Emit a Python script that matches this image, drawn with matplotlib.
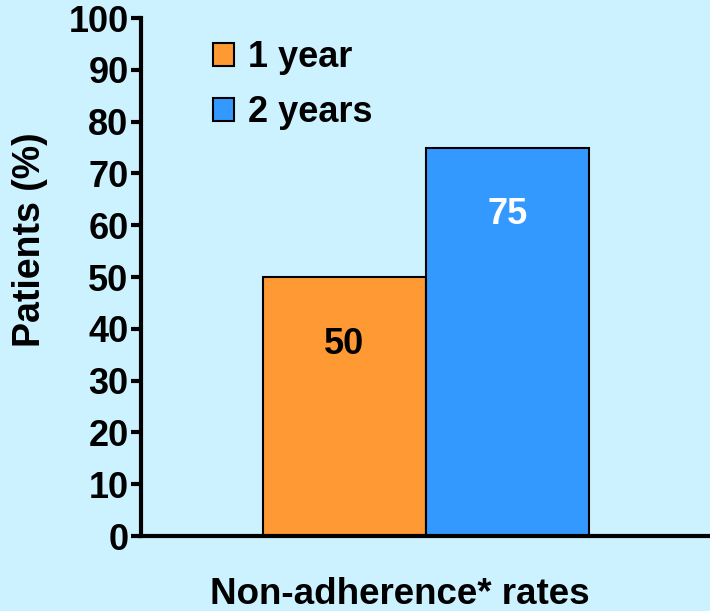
import numpy as np
import matplotlib.pyplot as plt
from matplotlib.patches import Patch

# non-adherence rates by follow-up period
periods = ['1 year', '2 years']
rates = [50, 75]
colors = ['#FF9933', '#3399FF']
label_colors = ['black', 'white']
yticks = np.arange(0, 101, 10)

bg = '#CCF2FF'
fs = 26
plt.rcParams['font.family'] = ['Liberation Sans', 'DejaVu Sans']
plt.rcParams['font.weight'] = 'bold'

fig = plt.figure(figsize=(7.1, 6.11), dpi=100, facecolor=bg)
ax = fig.add_axes([0.1986, 0.1227, 0.8014, 0.8478], facecolor=bg)

x = np.arange(len(rates))
bars = ax.bar(x, rates, width=1.0, color=colors, edgecolor='black', linewidth=1.5)

for xi, r, c in zip(x, rates, label_colors):
    ax.text(xi, r - 13, str(r), ha='center', va='center', color=c,
            fontsize=fs, fontweight='bold')

ax.set_xlim(-1.248, 2.243)
ax.set_ylim(0, 100)
ax.set_yticks(yticks)
ax.set_yticklabels([str(t) for t in yticks], fontsize=fs, fontweight='bold')
ax.set_xticks([])
ax.tick_params(axis='y', length=7, width=3, pad=2)

for s in ['top', 'right']:
    ax.spines[s].set_visible(False)
ax.spines['left'].set_linewidth(3)
ax.spines['bottom'].set_linewidth(3)

ax.set_ylabel('Patients (%)', fontsize=27, fontweight='bold')
ax.yaxis.set_label_coords(-0.163, 0.573)
ax.set_xlabel('Non-adherence* rates', fontsize=26.5, fontweight='bold')
ax.xaxis.set_label_coords(0.455, -0.079)

handles = [Patch(facecolor=c, edgecolor='black', linewidth=1.5) for c in colors]
leg = ax.legend(handles, periods, loc='upper left', bbox_to_anchor=(0.101, 0.985),
                frameon=False, prop={'size': fs, 'weight': 'bold'},
                handlelength=0.58, handleheight=0.58, handletextpad=0.4,
                labelspacing=0.55, borderaxespad=0)

fig.savefig('out.png', dpi=100, facecolor=bg)
